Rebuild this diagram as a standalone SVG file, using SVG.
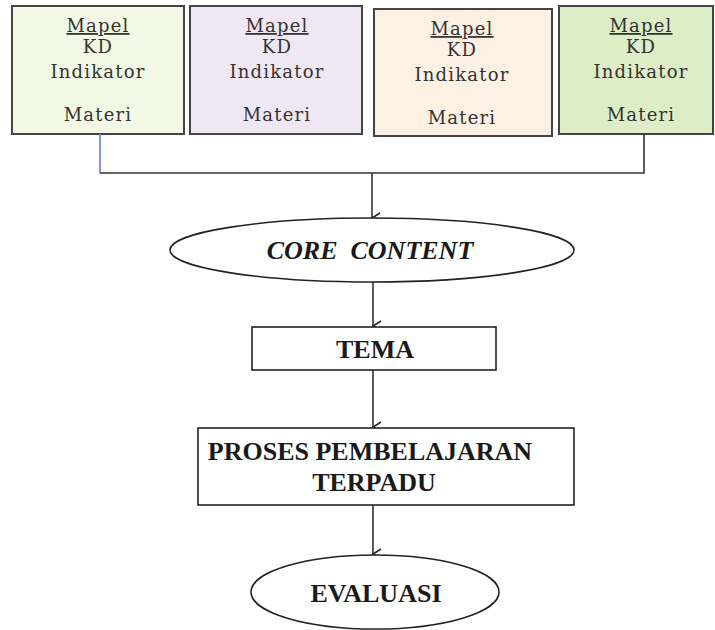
<svg xmlns="http://www.w3.org/2000/svg" width="715" height="630" viewBox="0 0 715 630">
<defs>
<marker id="ah" markerWidth="12" markerHeight="12" refX="6" refY="10" orient="auto" markerUnits="userSpaceOnUse" viewBox="0 0 12 12">
<path d="M1,2 L6,10 L11,2" fill="none" stroke="#222" stroke-width="1.5"/>
</marker>
</defs>
<style>
.box{stroke:#444;stroke-width:2}
.t{font-family:"DejaVu Serif","Liberation Serif",serif;font-size:18px;letter-spacing:1.2px;fill:#333;text-anchor:middle}
.b{font-family:"Liberation Serif","DejaVu Serif",serif;font-size:26px;font-weight:bold;fill:#1a1a1a;text-anchor:middle}
.c{stroke:#333;stroke-width:1.6;fill:none}
.n{fill:#fff;stroke:#222;stroke-width:1.6}
</style>
<rect width="715" height="630" fill="#fff"/>
<g id="mapel1">
<rect class="box" x="12" y="6" width="172" height="128" fill="#F3F8E4"/>
<text class="t" x="98" y="32" text-decoration="underline">Mapel</text>
<text class="t" x="98" y="53">KD</text>
<text class="t" x="98" y="78">Indikator</text>
<text class="t" x="98" y="121">Materi</text>
</g>
<g id="mapel2">
<rect class="box" x="190" y="6" width="172" height="128" fill="#EFE7F3"/>
<text class="t" x="277" y="32" text-decoration="underline">Mapel</text>
<text class="t" x="277" y="53">KD</text>
<text class="t" x="277" y="78">Indikator</text>
<text class="t" x="277" y="121">Materi</text>
</g>
<g id="mapel3">
<rect class="box" x="374" y="9" width="178" height="127" fill="#FEF1E3"/>
<text class="t" x="462" y="35" text-decoration="underline">Mapel</text>
<text class="t" x="462" y="56">KD</text>
<text class="t" x="462" y="81">Indikator</text>
<text class="t" x="462" y="124">Materi</text>
</g>
<g id="mapel4">
<rect class="box" x="559" y="6" width="154" height="128" fill="#DDEDC5"/>
<text class="t" x="641" y="32" text-decoration="underline">Mapel</text>
<text class="t" x="641" y="53">KD</text>
<text class="t" x="641" y="78">Indikator</text>
<text class="t" x="641" y="121">Materi</text>
</g>
<g id="connectors">
<path d="M100,134 L100,173" stroke="#5b86d6" stroke-width="1.6" fill="none"/>
<path class="c" d="M100,173 L644,173 L644,134"/>
<path class="c" d="M372,173 L372,218" marker-end="url(#ah)"/>
<path class="c" d="M373,282 L373,326" marker-end="url(#ah)"/>
<path class="c" d="M373,370 L373,427" marker-end="url(#ah)"/>
<path class="c" d="M373,505 L373,554" marker-end="url(#ah)"/>
</g>
<g id="core">
<ellipse class="n" cx="372" cy="250" rx="202" ry="32"/>
<text class="b" x="370" y="259" font-style="italic" style="white-space:pre">CORE  CONTENT</text>
</g>
<g id="tema">
<rect class="n" x="252" y="327" width="244" height="43"/>
<text class="b" x="375" y="358">TEMA</text>
</g>
<g id="proses">
<rect class="n" x="198" y="428" width="376" height="77"/>
<text class="b" x="370" y="460">PROSES PEMBELAJARAN</text>
<text class="b" x="374" y="491">TERPADU</text>
</g>
<g id="evaluasi">
<ellipse class="n" cx="375" cy="592" rx="124" ry="37"/>
<text class="b" x="376" y="602">EVALUASI</text>
</g>
</svg>
